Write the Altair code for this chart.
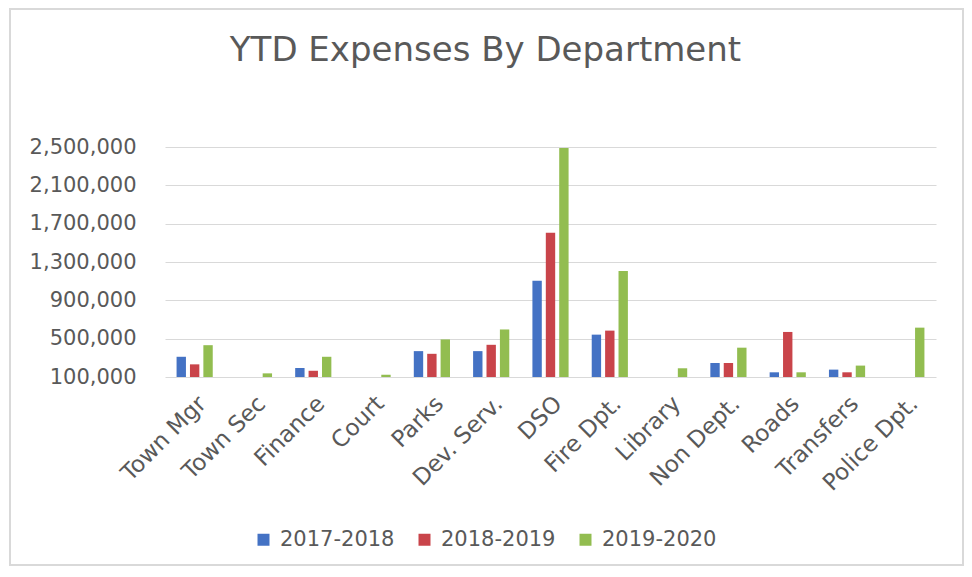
import altair as alt
import pandas as pd

categories = ["Town Mgr", "Town Sec", "Finance", "Court", "Parks", "Dev. Serv.", "DSO",
              "Fire Dpt.", "Library", "Non Dept.", "Roads", "Transfers", "Police Dpt."]
years = ["2017-2018", "2018-2019", "2019-2020"]
fy2017 = [311000, None, 194000, None, 370000, 370000, 1105000, 542000, None, 246000, 149000, 177000, None]
fy2018 = [232000, None, 165000, None, 342000, 436000, 1606000, 584000, None, 246000, 570000, 149000, None]
fy2019 = [432000, 138000, 311000, 124000, 492000, 596000, 2490000, 1206000, 191000, 406000, 149000, 219000, 615000]
y_ticks = [100000, 500000, 900000, 1300000, 1700000, 2100000, 2500000]
colors = ["#4472C4", "#C9444A", "#92BD50"]

rows = []
for yr, vals in zip(years, [fy2017, fy2018, fy2019]):
    for c, v in zip(categories, vals):
        if v is not None:
            rows.append({"Department": c, "Year": yr, "Value": v})
df = pd.DataFrame(rows)

FONT = "DejaVu Sans"
GRAY = "#595959"

bars = alt.Chart(df).mark_bar().encode(
    x=alt.X("Department:N", sort=categories, title=None,
            scale=alt.Scale(paddingInner=0.39, paddingOuter=0.195),
            axis=alt.Axis(labelAngle=-45, labelAlign="right", labelBaseline="top",
                          labelPadding=15, ticks=False, domain=False,
                          labelFontSize=23, labelColor=GRAY, labelFont=FONT)),
    xOffset=alt.XOffset("Year:N", sort=years,
                        scale=alt.Scale(paddingInner=0.3, paddingOuter=0)),
    y=alt.Y("Value:Q", title=None,
            scale=alt.Scale(domain=[100000, 2500000], zero=False, nice=False),
            axis=alt.Axis(values=y_ticks, format=",d", ticks=False, domain=False,
                          labelPadding=29, labelFontSize=21, labelColor=GRAY,
                          labelFont=FONT, gridColor="#d9d9d9", gridWidth=1.2)),
    y2=alt.datum(100000),
    color=alt.Color("Year:N", sort=years,
                    scale=alt.Scale(domain=years, range=colors),
                    legend=alt.Legend(title=None, orient="none", legendX=88, legendY=382,
                                      direction="horizontal", symbolType="square",
                                      symbolSize=144, symbolStrokeWidth=0,
                                      labelFontSize=21, labelColor=GRAY, labelFont=FONT,
                                      labelOffset=6, columnPadding=19)),
)

frame = alt.Chart(alt.Data(values=[{"f": 1}])).mark_rect(
    filled=False, stroke="#d9d9d9", strokeWidth=2
).encode(
    x=alt.value(-155), x2=alt.value(798), y=alt.value(-138), y2=alt.value(418)
)

chart = alt.layer(bars, frame).properties(
    width=771, height=230,
    padding={"left": 157, "top": 139, "right": 28, "bottom": 190},
    autosize=alt.AutoSizeParams(type="none"),
    title=alt.TitleParams("YTD Expenses By Department", fontSize=34, font=FONT,
                          fontWeight="normal", color=GRAY, anchor="middle",
                          frame="group", dx=-65, offset=-87, baseline="alphabetic"),
).configure_view(stroke=None)

chart.save("out.html", embed_options={"renderer": "svg", "actions": False})
